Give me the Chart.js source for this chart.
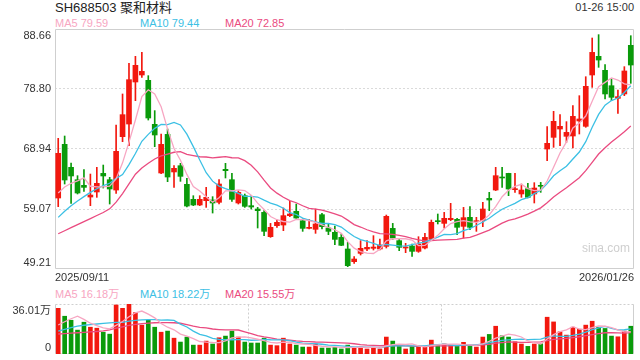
<!DOCTYPE html>
<html>
<head>
<meta charset="utf-8">
<script src="https://cdn.jsdelivr.net/npm/chart.js@4.4.1/dist/chart.umd.min.js"></script>
<style>
body { margin: 0; background: #fff; width: 640px; height: 360px; overflow: hidden; position: relative;
       font-family: "Liberation Sans", Arial, "Noto Sans CJK SC", sans-serif; }
.t { position: absolute; white-space: nowrap; font-size: 11px; line-height: 13px; }
#kline { position: absolute; left: 0; top: 0; }
#vol { position: absolute; left: 0; top: 300px; }
</style>
</head>
<body>
<div class="t" style="left:55px;top:0px;font-size:13px;line-height:15px;color:#222">SH688503 聚和材料</div>
<div class="t" style="right:6px;top:1px;color:#333">01-26 15:00</div>
<div class="t" style="left:55px;top:17px;color:#f7a6c2">MA5 79.59</div>
<div class="t" style="left:140px;top:17px;color:#3cc0e4">MA10 79.44</div>
<div class="t" style="left:225px;top:17px;color:#ea4b80">MA20 72.85</div>
<div class="t" style="left:55px;top:288px;color:#f7a6c2">MA5 16.18万</div>
<div class="t" style="left:140px;top:288px;color:#3cc0e4">MA10 18.22万</div>
<div class="t" style="left:225px;top:288px;color:#ea4b80">MA20 15.55万</div>
<canvas id="kline" width="640" height="285"></canvas>
<canvas id="vol" width="640" height="60"></canvas>
<script>
// trading days 2025/09/11 .. 2026/01/26
const dates = (
  '2025/09/11 2025/09/12 2025/09/15 2025/09/16 2025/09/17 2025/09/18 2025/09/19 2025/09/22 2025/09/23 2025/09/24 ' +
  '2025/09/25 2025/09/26 2025/09/29 2025/09/30 2025/10/09 2025/10/10 2025/10/13 2025/10/14 2025/10/15 2025/10/16 ' +
  '2025/10/17 2025/10/20 2025/10/21 2025/10/22 2025/10/23 2025/10/24 2025/10/27 2025/10/28 2025/10/29 2025/10/30 ' +
  '2025/10/31 2025/11/03 2025/11/04 2025/11/05 2025/11/06 2025/11/07 2025/11/10 2025/11/11 2025/11/12 2025/11/13 ' +
  '2025/11/14 2025/11/17 2025/11/18 2025/11/19 2025/11/20 2025/11/21 2025/11/24 2025/11/25 2025/11/26 2025/11/27 ' +
  '2025/11/28 2025/12/01 2025/12/02 2025/12/03 2025/12/04 2025/12/05 2025/12/08 2025/12/09 2025/12/10 2025/12/11 ' +
  '2025/12/12 2025/12/15 2025/12/16 2025/12/17 2025/12/18 2025/12/19 2025/12/22 2025/12/23 2025/12/24 2025/12/25 ' +
  '2025/12/26 2025/12/29 2025/12/30 2025/12/31 2026/01/05 2026/01/06 2026/01/07 2026/01/08 2026/01/09 2026/01/12 ' +
  '2026/01/13 2026/01/14 2026/01/15 2026/01/16 2026/01/19 2026/01/20 2026/01/21 2026/01/22 2026/01/23 2026/01/26'
).split(' ');

const opens = [60.88, 69.70, 65.92, 63.89, 62.96, 61.04, 61.87, 64.93, 63.89, 62.19,
  70.96, 73.04, 79.95, 81.10, 80.22, 72.99, 64.99, 71.34, 65.16, 66.19,
  63.13, 60.66, 59.73, 60.44, 60.55, 60.17, 65.59, 63.89, 60.06, 61.26,
  59.62, 59.07, 58.52, 54.52, 56.33, 56.44, 57.98, 58.69, 57.15, 55.89,
  55.73, 58.14, 55.95, 55.24, 54.41, 52.50, 50.41, 51.78, 52.50, 52.61,
  52.50, 52.93, 55.89, 53.87, 52.66, 52.99, 52.11, 52.66, 54.08, 57.15,
  56.71, 57.32, 57.37, 56.22, 57.70, 56.99, 57.15, 60.82, 62.19, 64.33,
  64.93, 62.25, 61.54, 62.41, 61.54, 62.96, 68.93, 70.85, 72.22, 71.02,
  71.07, 73.54, 72.66, 81.10, 84.17, 81.87, 79.34, 77.26, 77.98, 85.98];
const highs = [70.69, 71.07, 66.63, 64.55, 65.54, 64.82, 65.92, 66.30, 64.28, 72.88,
  77.98, 83.02, 84.17, 84.82, 80.99, 75.24, 71.40, 72.22, 66.19, 66.58,
  64.11, 61.26, 61.26, 62.63, 61.10, 63.89, 66.58, 64.93, 62.08, 61.54,
  61.26, 59.34, 58.80, 56.71, 57.26, 59.24, 60.33, 59.89, 57.43, 57.32,
  59.07, 58.36, 56.61, 56.28, 54.96, 53.59, 51.24, 53.87, 53.87, 54.69,
  54.14, 58.08, 56.71, 54.25, 53.43, 53.32, 54.52, 55.07, 57.26, 58.25,
  58.52, 60.00, 57.54, 59.34, 59.45, 57.70, 60.17, 61.81, 65.92, 65.92,
  64.95, 64.93, 63.18, 63.29, 63.40, 63.45, 72.61, 75.13, 74.58, 73.43,
  76.06, 77.70, 80.82, 87.18, 87.73, 82.80, 80.44, 78.63, 82.47, 87.56];
const lows = [59.46, 63.18, 60.00, 61.54, 61.98, 59.62, 60.99, 62.52, 59.89, 61.65,
  70.14, 69.48, 76.88, 80.71, 73.70, 69.32, 64.90, 63.56, 62.63, 63.62,
  59.40, 59.62, 59.62, 59.34, 58.41, 59.89, 64.17, 60.33, 59.89, 59.34,
  59.07, 55.95, 54.69, 54.41, 56.06, 55.51, 57.81, 57.54, 55.40, 55.80,
  55.07, 55.78, 54.85, 53.21, 53.04, 49.59, 50.14, 51.51, 52.22, 52.33,
  52.33, 52.66, 54.08, 52.22, 51.89, 51.29, 51.95, 52.50, 54.00, 56.61,
  55.95, 57.15, 54.85, 54.30, 55.67, 55.40, 56.17, 58.80, 62.10, 62.63,
  61.26, 61.81, 60.99, 60.88, 60.06, 61.81, 67.02, 69.21, 69.48, 70.03,
  69.10, 71.40, 72.50, 79.07, 82.36, 77.15, 76.88, 74.80, 77.70, 79.73];
const closes = [68.22, 63.84, 64.50, 61.70, 62.63, 61.37, 63.29, 64.50, 62.36, 68.55,
  74.58, 80.33, 82.69, 81.70, 74.03, 71.24, 69.70, 64.33, 65.76, 64.44,
  59.56, 59.73, 60.66, 60.99, 60.06, 63.18, 65.37, 60.66, 61.81, 59.51,
  59.40, 58.80, 55.40, 56.06, 56.88, 57.98, 58.25, 57.59, 55.89, 56.06,
  56.61, 56.17, 55.40, 54.08, 53.10, 49.76, 50.85, 52.61, 52.77, 52.82,
  53.15, 57.87, 54.30, 52.77, 52.82, 52.11, 53.32, 54.41, 56.88, 56.99,
  57.54, 57.54, 56.06, 57.65, 56.06, 57.15, 59.07, 60.55, 64.55, 64.17,
  62.36, 62.41, 62.19, 60.99, 62.52, 62.80, 69.87, 73.48, 72.66, 71.67,
  74.30, 73.87, 79.24, 84.82, 83.56, 77.98, 77.43, 77.54, 81.76, 82.74];

const ma5 = [61.7, 62.7, 63.3, 63.7, 64.18, 62.81, 62.70, 62.70, 62.83, 64.01,
  66.66, 70.06, 73.70, 77.57, 78.67, 78.00, 75.87, 72.20, 69.01, 67.09,
  64.76, 62.76, 62.03, 61.08, 60.20, 60.92, 62.05, 62.05, 62.22, 62.11,
  61.35, 60.04, 58.98, 57.83, 57.31, 57.02, 56.91, 57.35, 57.32, 57.15,
  56.88, 56.46, 56.03, 55.66, 55.07, 53.70, 52.64, 52.08, 51.82, 51.76,
  52.44, 53.84, 54.18, 54.18, 54.18, 53.97, 53.06, 53.09, 53.91, 54.74,
  55.83, 56.67, 57.00, 57.16, 56.97, 56.89, 57.20, 58.10, 59.48, 61.10,
  62.14, 62.81, 63.14, 62.42, 62.09, 62.18, 63.67, 65.93, 68.27, 70.10,
  72.40, 73.20, 74.35, 76.78, 79.16, 79.89, 80.61, 80.27, 79.65, 79.49];
const ma10 = [57.7, 58.7, 59.6, 60.4, 61.1, 61.8, 62.4, 62.9, 63.3, 64.10,
  64.73, 66.38, 68.20, 70.20, 71.34, 72.33, 72.97, 72.95, 73.29, 72.88,
  71.38, 69.32, 67.12, 65.04, 63.65, 62.84, 62.41, 62.04, 61.65, 61.15,
  61.14, 61.04, 60.52, 60.03, 59.71, 59.19, 58.48, 58.17, 57.58, 57.23,
  56.95, 56.69, 56.69, 56.49, 56.11, 55.29, 54.55, 54.05, 53.74, 53.42,
  53.07, 53.24, 53.13, 53.00, 52.97, 53.21, 53.45, 53.63, 54.05, 54.46,
  54.90, 54.87, 55.04, 55.53, 55.86, 56.36, 56.94, 57.55, 58.32, 59.03,
  59.52, 60.00, 60.62, 60.95, 61.60, 62.16, 63.24, 64.53, 65.35, 66.10,
  67.29, 68.44, 70.14, 72.52, 74.63, 76.15, 76.90, 77.31, 78.22, 79.32];
const ma20 = [55.0, 55.5, 56.0, 56.5, 57.0, 57.5, 58.0, 58.5, 59.1, 60.2,
  61.6, 63.2, 64.8, 65.8, 66.6, 67.3, 67.8, 68.1, 68.4, 68.49,
  68.06, 67.85, 67.66, 67.62, 67.49, 67.58, 67.69, 67.50, 67.47, 67.02,
  66.26, 65.18, 63.82, 62.53, 61.68, 61.01, 60.44, 60.10, 59.61, 59.19,
  59.04, 58.87, 58.60, 58.26, 57.91, 57.24, 56.51, 56.11, 55.66, 55.32,
  55.01, 54.97, 54.91, 54.75, 54.54, 54.25, 54.00, 53.84, 53.89, 53.94,
  53.99, 54.05, 54.09, 54.27, 54.41, 54.78, 55.19, 55.59, 56.18, 56.75,
  57.21, 57.44, 57.83, 58.24, 58.73, 59.26, 60.09, 61.04, 61.83, 62.56,
  63.40, 64.22, 65.38, 66.74, 68.11, 69.15, 70.07, 70.92, 71.78, 72.71];

// volume, 万股
const volumes = [32.9, 27.2, 24.3, 17.2, 22.9, 19.3, 18.6, 15.7, 14.3, 35.3,
  32.9, 36.01, 29.8, 20.7, 24.3, 19.3, 15.7, 16.5, 11.4, 8.6,
  12.2, 6.4, 6.4, 9.3, 7.2, 11.7, 12.9, 16.5, 12.2, 8.6,
  7.9, 7.9, 11.4, 6.4, 6.0, 11.4, 7.2, 6.4, 5.0, 5.0,
  7.2, 4.3, 4.3, 4.8, 3.6, 6.4, 4.8, 5.0, 3.6, 4.8,
  3.6, 12.2, 9.3, 5.5, 3.6, 5.5, 5.5, 5.5, 10.0, 6.4,
  7.2, 6.4, 5.5, 8.4, 5.5, 5.0, 12.2, 14.1, 20.0, 13.1,
  12.2, 8.8, 7.2, 5.5, 7.2, 7.4, 26.5, 23.1, 16.0, 13.6,
  19.3, 17.9, 20.8, 23.6, 19.3, 18.4, 12.9, 12.4, 16.5, 20.0];
const vma5 = [20.9, 23.2, 25.4, 27.2, 24.90, 22.18, 20.46, 18.74, 18.16, 20.64,
  23.36, 26.84, 29.66, 30.94, 28.74, 26.02, 21.96, 19.30, 17.44, 14.30,
  12.88, 11.02, 9.00, 8.58, 8.30, 8.20, 9.50, 11.52, 12.10, 12.38,
  11.62, 10.62, 9.60, 8.44, 7.92, 8.62, 8.48, 7.48, 7.20, 7.00,
  6.16, 5.58, 5.16, 5.12, 4.84, 4.68, 4.78, 4.92, 4.68, 4.92,
  4.36, 5.84, 6.70, 7.08, 6.84, 7.22, 5.88, 5.12, 6.02, 6.58,
  6.92, 7.10, 7.10, 6.78, 6.60, 6.16, 7.32, 9.04, 11.36, 12.88,
  14.32, 13.64, 12.26, 9.36, 8.18, 7.22, 10.76, 13.94, 16.04, 17.32,
  19.70, 17.98, 17.52, 19.04, 20.18, 20.00, 19.00, 17.32, 15.90, 16.04];
const vma10 = [16.4, 17.8, 19.0, 20.0, 20.7, 21.2, 21.6, 22.0, 22.4, 22.77,
  22.77, 23.65, 24.20, 24.55, 24.69, 24.69, 24.40, 24.48, 24.19, 21.52,
  19.45, 16.49, 14.15, 13.01, 11.30, 10.54, 10.26, 10.26, 10.34, 10.34,
  9.91, 10.06, 10.56, 10.27, 10.15, 10.12, 9.55, 8.54, 7.82, 7.46,
  7.39, 7.03, 6.32, 6.16, 5.92, 5.42, 5.18, 5.04, 4.90, 4.88,
  4.52, 5.31, 5.81, 5.88, 5.88, 5.79, 5.86, 5.91, 6.55, 6.71,
  7.07, 6.49, 6.11, 6.40, 6.59, 6.54, 7.21, 8.07, 9.07, 9.74,
  10.24, 10.48, 10.65, 10.36, 10.53, 10.77, 12.20, 13.10, 12.70, 12.75,
  13.46, 14.37, 15.73, 17.54, 18.75, 19.85, 18.49, 17.42, 17.47, 18.11];
const vma20 = [14.4, 14.7, 15.0, 15.3, 15.6, 15.9, 16.2, 16.6, 17.3, 18.6,
  19.6, 20.6, 21.4, 21.8, 22.2, 22.5, 22.6, 22.6, 22.5, 22.15,
  21.11, 20.07, 19.18, 18.78, 18.00, 17.62, 17.33, 17.37, 17.27, 15.93,
  14.68, 13.28, 12.36, 11.64, 10.73, 10.33, 9.91, 9.40, 9.08, 8.90,
  8.65, 8.55, 8.44, 8.22, 8.04, 7.77, 7.37, 6.79, 6.36, 6.17,
  5.96, 6.17, 6.07, 6.02, 5.90, 5.61, 5.52, 5.48, 5.73, 5.80,
  5.80, 5.90, 5.96, 6.14, 6.24, 6.17, 6.54, 6.99, 7.81, 8.23,
  8.66, 8.49, 8.38, 8.38, 8.56, 8.66, 9.71, 10.59, 10.89, 11.25,
  11.85, 12.43, 13.19, 13.95, 14.64, 15.31, 15.35, 15.26, 15.09, 15.43];

const priceTicks = [49.21, 59.07, 68.94, 78.80, 88.66];
const volTicks = [0, 36.01];

const RED = '#f2180e';
const GREEN = '#0a9a0a';
const C_MA5 = '#f7a6c2';
const C_MA10 = '#3cc0e4';
const C_MA20 = '#ea4b80';
const FONT = '11px "Liberation Sans", Arial, "Noto Sans CJK SC", sans-serif';

const candleColors = closes.map((c, i) => c >= opens[i] ? RED : GREEN);

function maLine(data, color) {
  return { type: 'line', data: data, borderColor: color, borderWidth: 1.3,
           pointRadius: 0, tension: 0, fill: false, order: 0 };
}

// y-axis labels, date labels, frame
function framePlugin(ticks, fmt, dotted) {
  return {
    id: 'frame',
    beforeDatasetsDraw(chart) {
      const a = chart.chartArea, ctx = chart.ctx, y = chart.scales.y;
      ctx.save();
      ctx.strokeStyle = '#cfcfcf';
      ctx.lineWidth = 1;
      const l = Math.round(a.left) + 0.5, r = Math.round(a.right) - 0.5;
      const t = Math.round(a.top) + 0.5, b = Math.round(a.bottom) - 0.5;
      // sides
      ctx.beginPath();
      ctx.moveTo(l, t); ctx.lineTo(l, b);
      ctx.moveTo(r, t); ctx.lineTo(r, b);
      ctx.stroke();
      if (dotted) ctx.setLineDash([2, 2]);
      ctx.beginPath();
      ctx.moveTo(l, t); ctx.lineTo(r, t);
      ctx.moveTo(l, b); ctx.lineTo(r, b);
      if (dotted) {
        for (let k = 1; k < 3; k++) {
          const x = Math.round(a.left + (a.right - a.left) * k / 3) + 0.5;
          ctx.moveTo(x, t); ctx.lineTo(x, b);
        }
      }
      ctx.stroke();
      ctx.setLineDash([]);

      ctx.font = FONT;
      ctx.fillStyle = '#333';
      ctx.textAlign = 'right';
      ctx.textBaseline = 'middle';
      ticks.forEach((v, i) => {
        let py = y.getPixelForValue(v);
        if (i === 0) py -= 6;
        else if (i === ticks.length - 1) py += 6.5;
        ctx.fillText(fmt(v), a.left - 4, py);
      });

      if (chart.canvas.id === 'kline') {
        ctx.textBaseline = 'middle';
        ctx.textAlign = 'left';
        ctx.fillText(dates[0], a.left, a.bottom + 8.5);
        ctx.textAlign = 'right';
        ctx.fillText(dates[dates.length - 1], a.right, a.bottom + 8.5);
        ctx.fillStyle = '#cfcfcf';
        ctx.font = '12px "Liberation Sans", Arial, sans-serif';
        ctx.textAlign = 'left';
        ctx.fillText('sina.com', a.right - 52, a.bottom - 20);
      }
      ctx.restore();
    }
  };
}

const commonScales = (ticks, min, max, gridOn) => ({
  x: { type: 'category', display: false, offset: true, grid: { display: false } },
  y: {
    min: min, max: max,
    afterBuildTicks: s => { s.ticks = ticks.map(v => ({ value: v })); },
    afterFit: s => { s.width = 55; },
    ticks: { display: false },
    border: { display: false, dash: [2, 2] },
    grid: {
      display: gridOn, drawTicks: false, lineWidth: 1,
      color: c => (c.index > 0 && c.index < ticks.length - 1) ? '#dadada' : 'rgba(0,0,0,0)'
    }
  }
});

new Chart(document.getElementById('kline'), {
  type: 'bar',
  data: {
    labels: dates,
    datasets: [
      maLine(ma5, C_MA5),
      maLine(ma10, C_MA10),
      maLine(ma20, C_MA20),
      { type: 'bar', data: opens.map((o, i) => [o, closes[i]]), backgroundColor: candleColors,
        barThickness: 5, minBarLength: 1, grouped: false, order: 1 },
      { type: 'bar', data: lows.map((l, i) => [l, highs[i]]), backgroundColor: candleColors,
        barThickness: 1, grouped: false, order: 2 }
    ]
  },
  options: {
    responsive: false, animation: false,
    layout: { padding: { left: 0, right: 6, top: 29, bottom: 16 } },
    plugins: { legend: { display: false }, tooltip: { enabled: false } },
    scales: commonScales(priceTicks, priceTicks[0], priceTicks[priceTicks.length - 1], true)
  },
  plugins: [framePlugin(priceTicks, v => v.toFixed(2), false)]
});

new Chart(document.getElementById('vol'), {
  type: 'bar',
  data: {
    labels: dates,
    datasets: [
      maLine(vma5, C_MA5),
      maLine(vma10, C_MA10),
      maLine(vma20, C_MA20),
      { type: 'bar', data: volumes, backgroundColor: candleColors,
        barThickness: 4, grouped: false, order: 1 }
    ]
  },
  options: {
    responsive: false, animation: false,
    layout: { padding: { left: 0, right: 6, top: 4, bottom: 6 } },
    plugins: { legend: { display: false }, tooltip: { enabled: false } },
    scales: commonScales(volTicks, 0, volTicks[1], false)
  },
  plugins: [framePlugin(volTicks, v => v === 0 ? '0' : v.toFixed(2) + '万', true)]
});
</script>
</body>
</html>
